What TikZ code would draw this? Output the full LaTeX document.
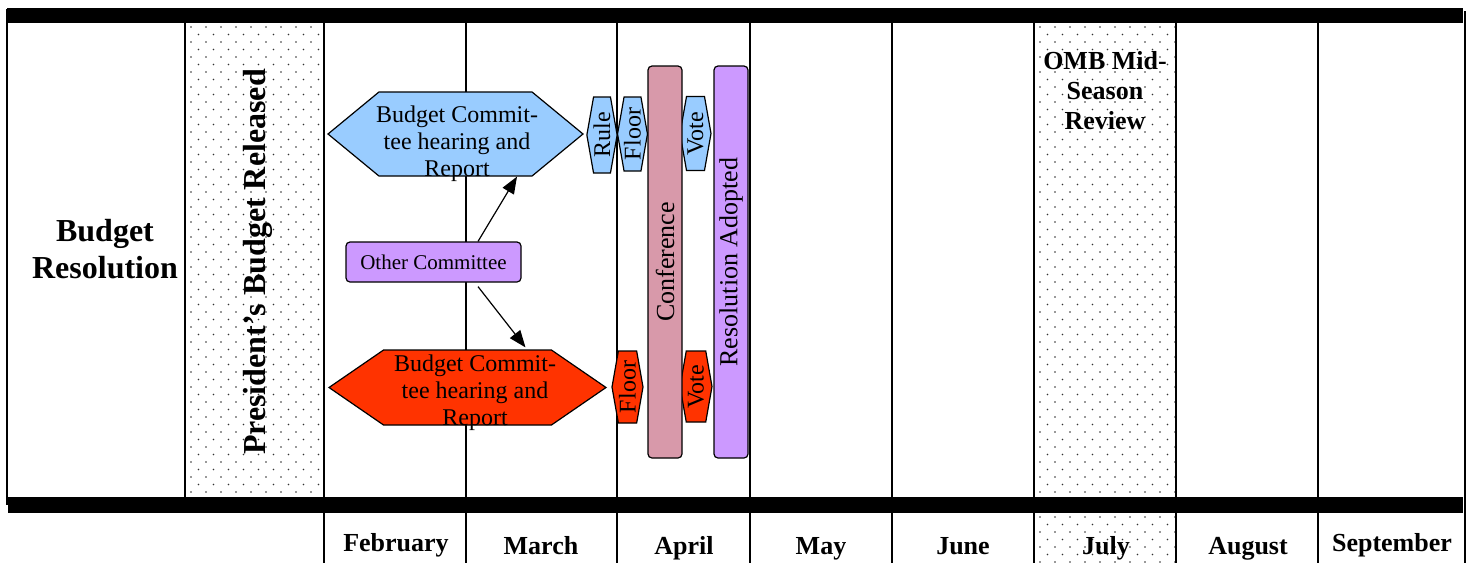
\documentclass[tikz,border=0pt]{standalone}
\usepackage{fontspec}
\setmainfont{Liberation Serif}
\usepackage{graphicx}
\usetikzlibrary{shapes.symbols,arrows.meta}
\definecolor{hexblue}{HTML}{99CCFF}
\definecolor{hexred}{HTML}{FF3300}
\definecolor{lilac}{HTML}{CC99FF}
\definecolor{rosy}{HTML}{D899AA}
\begin{document}
\begin{tikzpicture}[
        x=1pt, y=-1pt,
        rule/.style={line width=1.6pt},
        hexa/.style={signal, signal to=east and west, draw, line width=1.2pt, inner sep=0pt},
        smallhex/.style={hexa, minimum height=74pt, signal pointer angle=160, font=\fontsize{24}{27}\selectfont},
        hextext/.style={align=center, font=\fontsize{24}{27}\selectfont},
        pillar/.style={draw, line width=1.2pt, rounded corners=4pt, rotate=90, minimum width=392pt, minimum height=34pt, inner sep=0pt, font=\fontsize{26}{30}\selectfont},
        month/.style={font=\bfseries\fontsize{26}{30}\selectfont, anchor=base},
        arrow/.style={-{Triangle[length=17pt,width=13pt]}, line width=1.2pt}
    ]
        \useasboundingbox (0,0) rectangle (1472,563);

        % dotted columns
        \foreach \xa/\ya/\xb/\yb in {186/23/323/497, 1035/23/1175/497, 1035/513/1175/563} {
            \begin{scope}
                \clip (\xa,\ya) rectangle (\xb,\yb);
                \foreach \r in {0,...,64}
                    \foreach \c in {0,...,10}
                        \fill[black!80] ({\xa+5+15*\c+7.5*mod(\r,2)},{\ya+4+7.5*\r}) circle[radius=0.95pt];
            \end{scope}
        }

        % frame
        \fill (7,8) rectangle (1463,23);
        \fill (8,497) rectangle (1463,513);
        \draw[rule] (7,9) -- (7,505);
        \draw[rule] (1465,11) -- (1465,563);
        \foreach \x in {185,324,466,617,750,892,1034,1176,1318}
            \draw[rule] (\x,23) -- (\x,497);
        \foreach \x in {324,466,617,750,892,1034,1176,1318}
            \draw[rule] (\x,513) -- (\x,563);

        % row and column heads
        \node[align=center, font=\bfseries\fontsize{32}{37}\selectfont] (head) at (105,249) {Budget\\Resolution};
        \node[rotate=90, font=\bfseries\fontsize{32}{36}\selectfont] (pres) at (258,262) {President's Budget Released};
        \node[align=center, font=\bfseries\fontsize{26}{30}\selectfont] (omb) at (1105,91) {OMB Mid-\\Season\\Review};
        \foreach \m/\x/\y in {February/396/551, March/541/554, April/684/554, May/821/554, June/963/554, July/1106/554, August/1248/554, September/1392/551}
            \node[month] (m\m) at (\x,\y) {\m};

        % committee work
        \node[hexa, fill=hexblue, minimum width=255pt, minimum height=84pt, signal pointer angle=79] (bch) at (455.5,134) {};
        \node[hextext] (bchtext) at (457,144) {Budget Commit-\\tee hearing and\\Report};
        \node[hexa, fill=hexred, minimum width=277pt, minimum height=75pt, signal pointer angle=69] (rch) at (467.5,387.5) {};
        \node[hextext] (rchtext) at (475,393) {Budget Commit-\\tee hearing and\\Report};
        \node[draw, line width=1.2pt, fill=lilac, rounded corners=4pt, minimum width=175pt, minimum height=40pt, inner sep=0pt, font=\fontsize{21}{24}\selectfont] (oc) at (433.5,262) {Other Committee};

        \draw[arrow] ([xshift=44.5pt]oc.north) -- ([xshift=61.5pt]bch.south);
        \draw[arrow] ([xshift=44.5pt,yshift=-4pt]oc.south) -- ([xshift=58pt,yshift=2pt]rch.north);

        % floor action
        \node[smallhex, fill=hexblue, minimum width=26pt, minimum height=76pt] (rulea) at (602,135) {\rotatebox{90}{Rule}};
        \node[smallhex, fill=hexblue, minimum width=29pt] (floora) at (632.5,134) {\rotatebox{90}{Floor}};
        \node[smallhex, fill=hexblue, minimum width=31pt] (votea) at (695.5,133.5) {\rotatebox{90}{Vote}};
        \node[smallhex, fill=hexred, minimum width=31pt, minimum height=72pt] (floorb) at (627.5,387) {\rotatebox{90}{Floor}};
        \node[smallhex, fill=hexred, minimum width=32pt, minimum height=71pt] (voteb) at (696,386.5) {\rotatebox{90}{Vote}};

        \node[pillar, fill=rosy] (conf) at (665,262) {Conference};
        \node[pillar, fill=lilac] (adopt) at (731,262) {Resolution Adopted};
    \end{tikzpicture}
\end{document}
